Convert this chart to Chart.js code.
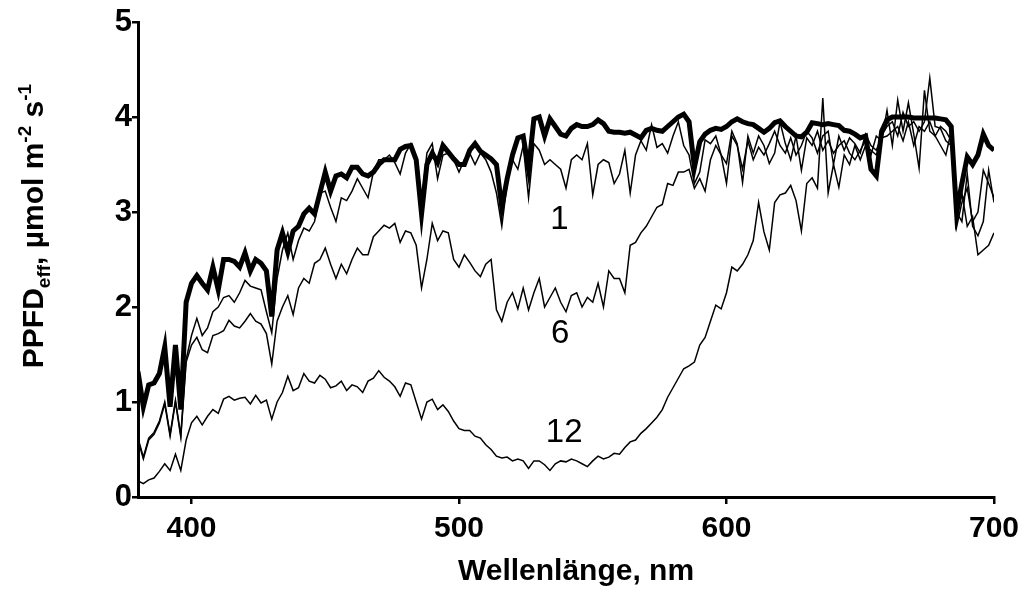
<!DOCTYPE html>
<html>
<head>
<meta charset="utf-8">
<script src="https://cdn.jsdelivr.net/npm/chart.js@4.4.0/dist/chart.umd.min.js"></script>
<style>
  html, body { margin: 0; padding: 0; background: #fff; }
  #wrap { width: 1021px; height: 590px; position: relative; }
</style>
</head>
<body>
<div id="wrap"><canvas id="spectrum"></canvas></div>
<script>
// Wavelength grid, nm
const wavelengths = [
  380, 382, 384, 386, 388, 390, 392, 394, 396, 398,
  400, 402, 404, 406, 408, 410, 412, 414, 416, 418,
  420, 422, 424, 426, 428, 430, 432, 434, 436, 438,
  440, 442, 444, 446, 448, 450, 452, 454, 456, 458,
  460, 462, 464, 466, 468, 470, 472, 474, 476, 478,
  480, 482, 484, 486, 488, 490, 492, 494, 496, 498,
  500, 502, 504, 506, 508, 510, 512, 514, 516, 518,
  520, 522, 524, 526, 528, 530, 532, 534, 536, 538,
  540, 542, 544, 546, 548, 550, 552, 554, 556, 558,
  560, 562, 564, 566, 568, 570, 572, 574, 576, 578,
  580, 582, 584, 586, 588, 590, 592, 594, 596, 598,
  600, 602, 604, 606, 608, 610, 612, 614, 616, 618,
  620, 622, 624, 626, 628, 630, 632, 634, 636, 638,
  640, 642, 644, 646, 648, 650, 652, 654, 656, 658,
  660, 662, 664, 666, 668, 670, 672, 674, 676, 678,
  680, 682, 684, 686, 688, 690, 692, 694, 696, 698,
  700
];

// Surface spectrum (thick line)
const ppfdSurface = [
  1.32, 0.95, 1.18, 1.20, 1.30, 1.58, 0.95, 1.60, 0.92, 2.05,
  2.25, 2.33, 2.25, 2.18, 2.42, 2.18, 2.50, 2.50, 2.48, 2.42,
  2.57, 2.38, 2.50, 2.46, 2.38, 1.90, 2.60, 2.78, 2.58, 2.80,
  2.85, 2.98, 3.04, 2.98, 3.20, 3.42, 3.22, 3.38, 3.40, 3.36,
  3.47, 3.47, 3.40, 3.38, 3.42, 3.50, 3.55, 3.55, 3.55, 3.66,
  3.69, 3.70, 3.55, 2.98, 3.50, 3.62, 3.52, 3.70, 3.63, 3.56,
  3.50, 3.50, 3.65, 3.72, 3.64, 3.60, 3.56, 3.50, 3.05, 3.35,
  3.60, 3.78, 3.80, 3.45, 3.98, 4.00, 3.80, 3.98, 3.90, 3.82,
  3.80, 3.88, 3.92, 3.90, 3.90, 3.92, 3.97, 3.93, 3.85, 3.84,
  3.84, 3.83, 3.84, 3.81, 3.78, 3.86, 3.88, 3.86, 3.85, 3.90,
  3.95, 4.00, 4.03, 3.95, 3.47, 3.74, 3.82, 3.86, 3.88, 3.87,
  3.90, 3.95, 3.98, 3.95, 3.93, 3.92, 3.88, 3.84, 3.88, 3.94,
  3.96, 3.90, 3.85, 3.80, 3.79, 3.84, 3.94, 3.93, 3.92, 3.93,
  3.92, 3.91, 3.86, 3.85, 3.82, 3.78, 3.80, 3.45, 3.38, 3.85,
  3.97, 4.00, 4.00, 4.00, 4.00, 3.99, 3.99, 3.99, 3.99, 3.99,
  3.98, 3.97, 3.90, 3.00, 3.30, 3.58, 3.50, 3.60, 3.82, 3.70,
  3.65
];

// Curve "1"
const ppfd1 = [
  0.62, 0.42, 0.62, 0.68, 0.80, 1.00, 0.66, 1.02, 0.65, 1.45,
  1.70, 1.88, 1.70, 1.78, 1.95, 2.00, 2.10, 2.12, 2.05, 2.15,
  2.28, 2.22, 2.20, 2.18, 1.95, 1.73, 2.30, 2.60, 2.78, 2.50,
  2.70, 2.83, 2.80, 2.90, 3.20, 3.22, 3.05, 2.90, 3.15, 3.12,
  3.22, 3.35, 3.25, 3.15, 3.42, 3.55, 3.55, 3.60, 3.52, 3.40,
  3.62, 3.72, 3.55, 3.10, 3.62, 3.72, 3.35, 3.60, 3.62, 3.55,
  3.42, 3.55, 3.62, 3.50, 3.62, 3.55, 3.42, 3.20, 2.85, 3.30,
  3.55, 3.45, 3.70, 3.15, 3.72, 3.65, 3.50, 3.55, 3.50, 3.45,
  3.25, 3.55, 3.60, 3.55, 3.72, 3.18, 3.50, 3.55, 3.52, 3.30,
  3.40, 3.65, 3.20, 3.60, 3.75, 3.65, 3.92, 3.68, 3.72, 3.62,
  3.80, 3.95, 3.70, 3.60, 3.30, 3.42, 3.76, 3.72, 3.80, 3.60,
  3.51, 3.85, 3.72, 3.31, 3.80, 3.62, 3.80, 3.70, 3.51, 3.62,
  3.95, 3.72, 3.55, 3.80, 3.44, 3.78, 3.70, 3.85, 3.65, 3.75,
  3.62, 3.70, 3.75, 3.62, 3.55, 3.65, 3.75, 3.60, 3.80, 3.75,
  4.07, 3.70, 4.18, 3.85, 4.15, 3.82, 3.46, 4.28, 3.85, 3.80,
  3.70, 3.60, 3.85, 2.84, 3.10, 3.25, 2.90, 3.00, 3.44, 3.30,
  3.15
];

// Curve "6"
const ppfd6 = [
  0.60, 0.40, 0.60, 0.66, 0.78, 0.98, 0.64, 1.00, 0.63, 1.42,
  1.60, 1.68, 1.55, 1.52, 1.70, 1.72, 1.75, 1.86, 1.80, 1.78,
  1.85, 1.93, 1.85, 1.82, 1.72, 1.40, 1.85, 2.00, 2.12, 1.92,
  2.20, 2.30, 2.25, 2.46, 2.50, 2.62, 2.45, 2.30, 2.45, 2.35,
  2.50, 2.62, 2.55, 2.55, 2.74, 2.80, 2.86, 2.83, 2.88, 2.68,
  2.80, 2.78, 2.65, 2.20, 2.50, 2.88, 2.70, 2.80, 2.78, 2.50,
  2.42, 2.55, 2.47, 2.38, 2.32, 2.45, 2.50, 1.97, 1.85, 2.05,
  2.15, 1.98, 2.20, 1.97, 2.15, 2.30, 2.00, 2.10, 2.20, 2.05,
  1.95, 2.12, 2.15, 2.00, 2.10, 2.05, 2.25, 2.00, 2.38, 2.30,
  2.30, 2.15, 2.65, 2.68, 2.78, 2.85, 2.95, 3.05, 3.08, 3.30,
  3.28, 3.42, 3.42, 3.45, 3.25, 3.35, 3.22, 3.55, 3.70, 3.60,
  3.30, 3.80, 3.70, 3.45, 3.75, 3.55, 3.68, 3.60, 3.72, 3.85,
  3.70, 3.62, 3.78, 3.60, 3.70, 3.85, 3.78, 3.62, 3.80, 3.85,
  3.50, 3.80, 3.65, 3.78, 3.72, 3.62, 3.82, 3.70, 3.65, 3.80,
  3.90, 3.95, 3.80, 4.05, 3.90, 3.95, 3.85, 3.95, 4.41, 3.90,
  3.88, 3.75, 3.70, 3.00, 2.90, 3.40, 2.85, 2.75, 2.90, 3.44,
  3.10
];

// Curve "12"
const ppfd12 = [
  0.17, 0.14, 0.18, 0.20, 0.27, 0.35, 0.28, 0.45, 0.28, 0.60,
  0.78, 0.85, 0.76, 0.85, 0.92, 0.88, 1.03, 1.06, 1.02, 1.04,
  1.05, 0.98, 1.07, 0.99, 1.02, 0.82, 1.00, 1.10, 1.27, 1.12,
  1.15, 1.30, 1.22, 1.20, 1.28, 1.24, 1.15, 1.17, 1.22, 1.12,
  1.18, 1.16, 1.10, 1.22, 1.25, 1.33, 1.26, 1.22, 1.16, 1.06,
  1.20, 1.18, 1.00, 0.82, 1.00, 1.03, 0.92, 0.97, 0.90, 0.80,
  0.72, 0.70, 0.70, 0.64, 0.62, 0.55, 0.50, 0.43, 0.41, 0.42,
  0.38, 0.40, 0.38, 0.30, 0.38, 0.38, 0.34, 0.28, 0.35, 0.38,
  0.37, 0.40, 0.38, 0.35, 0.32, 0.38, 0.43, 0.40, 0.42, 0.46,
  0.45, 0.52, 0.58, 0.60, 0.67, 0.72, 0.78, 0.84, 0.92, 1.05,
  1.15, 1.25, 1.35, 1.38, 1.42, 1.60, 1.68, 1.85, 2.02, 1.98,
  2.15, 2.42, 2.38, 2.45, 2.55, 2.70, 3.10, 2.79, 2.60, 3.10,
  3.18, 3.20, 3.28, 3.12, 2.80, 3.30, 3.36, 3.25, 4.20, 3.20,
  3.50, 3.26, 3.60, 3.50, 3.70, 3.55, 3.70, 3.65, 3.60, 3.78,
  3.80, 3.85, 3.90, 3.75, 3.95, 3.70, 3.90, 3.85, 3.95, 3.80,
  3.90, 3.85, 3.75, 2.90, 3.20, 2.85, 2.95, 2.55, 2.60, 2.65,
  2.78
];

// Axis ticks and curve labels
const xTickValues = [400, 500, 600, 700];
const yTickValues = [0, 1, 2, 3, 4, 5];
const curveLabels = ["1", "6", "12"];
const curveLabelWave = [537.5, 537.8, 539.3];
const curveLabelValue = [2.92, 1.72, 0.67];

const FONT = "Arial, 'Liberation Sans', Helvetica, sans-serif";

// Helper to pair the wavelength grid with one series
function toPoints(values) {
  return wavelengths.map((w, i) => ({ x: w, y: values[i] }));
}

function lineDataset(values, width) {
  return {
    data: toPoints(values),
    borderColor: "#000",
    borderWidth: width,
    pointRadius: 0,
    tension: 0,
    fill: false
  };
}

// Draws the axis titles (with sub/superscripts) and the curve labels
const textPlugin = {
  id: "chartText",
  afterDraw(chart) {
    const ctx = chart.ctx;
    const xs = chart.scales.x;
    const ys = chart.scales.y;
    ctx.save();
    ctx.fillStyle = "#000";

    ctx.font = "33px " + FONT;
    ctx.textAlign = "center";
    ctx.textBaseline = "middle";
    curveLabels.forEach((t, i) => {
      ctx.fillText(t, xs.getPixelForValue(curveLabelWave[i]), ys.getPixelForValue(curveLabelValue[i]));
    });

    ctx.font = "bold 30px " + FONT;
    ctx.textBaseline = "alphabetic";
    ctx.fillText("Wellenlänge, nm", 576, 580);

    const parts = [
      { text: "PPFD", size: 30, shift: 0 },
      { text: "eff", size: 19, shift: 7 },
      { text: ", µmol m", size: 30, shift: 0 },
      { text: "-2", size: 19, shift: -12 },
      { text: " s", size: 30, shift: 0 },
      { text: "-1", size: 19, shift: -12 }
    ];
    let total = 0;
    parts.forEach(p => {
      ctx.font = "bold " + p.size + "px " + FONT;
      p.w = ctx.measureText(p.text).width;
      total += p.w;
    });
    ctx.translate(32, 226);
    ctx.rotate(-Math.PI / 2);
    ctx.textAlign = "left";
    let u = -total / 2;
    parts.forEach(p => {
      ctx.font = "bold " + p.size + "px " + FONT;
      ctx.fillText(p.text, u, 10.7 + p.shift);
      u += p.w;
    });
    ctx.restore();
  }
};

const chart = new Chart(document.getElementById("spectrum").getContext("2d"), {
  type: "line",
  data: {
    datasets: [
      lineDataset(ppfdSurface, 5),
      lineDataset(ppfd1, 1.5),
      lineDataset(ppfd6, 1.5),
      lineDataset(ppfd12, 1.5)
    ]
  },
  options: {
    responsive: true,
    maintainAspectRatio: false,
    animation: false,
    devicePixelRatio: 1,
    layout: { padding: { top: 22, right: 27, left: 0, bottom: 0 } },
    plugins: { legend: { display: false }, tooltip: { enabled: false } },
    scales: {
      x: {
        type: "linear",
        min: 380,
        max: 700,
        afterFit: s => { s.height = 93; s.paddingLeft = 0; s.paddingRight = 0; },
        afterBuildTicks: s => { s.ticks = xTickValues.map(v => ({ value: v })); },
        grid: { drawOnChartArea: false, drawTicks: true, tickLength: 7, color: "#000", lineWidth: 2.5 },
        border: { display: true, color: "#000", width: 3 },
        ticks: { color: "#000", padding: 7, maxRotation: 0, font: { family: FONT, size: 30, weight: "bold" } }
      },
      y: {
        min: 0,
        max: 5,
        afterFit: s => { s.width = 138; s.paddingTop = 0; s.paddingBottom = 0; },
        afterBuildTicks: s => { s.ticks = yTickValues.map(v => ({ value: v })); },
        grid: { drawOnChartArea: false, drawTicks: true, tickLength: 6, color: "#000", lineWidth: 2.5 },
        border: { display: true, color: "#000", width: 3 },
        ticks: { color: "#000", padding: 0, font: { family: FONT, size: 31, weight: "bold" } }
      }
    }
  },
  plugins: [textPlugin]
});
</script>
</body>
</html>
